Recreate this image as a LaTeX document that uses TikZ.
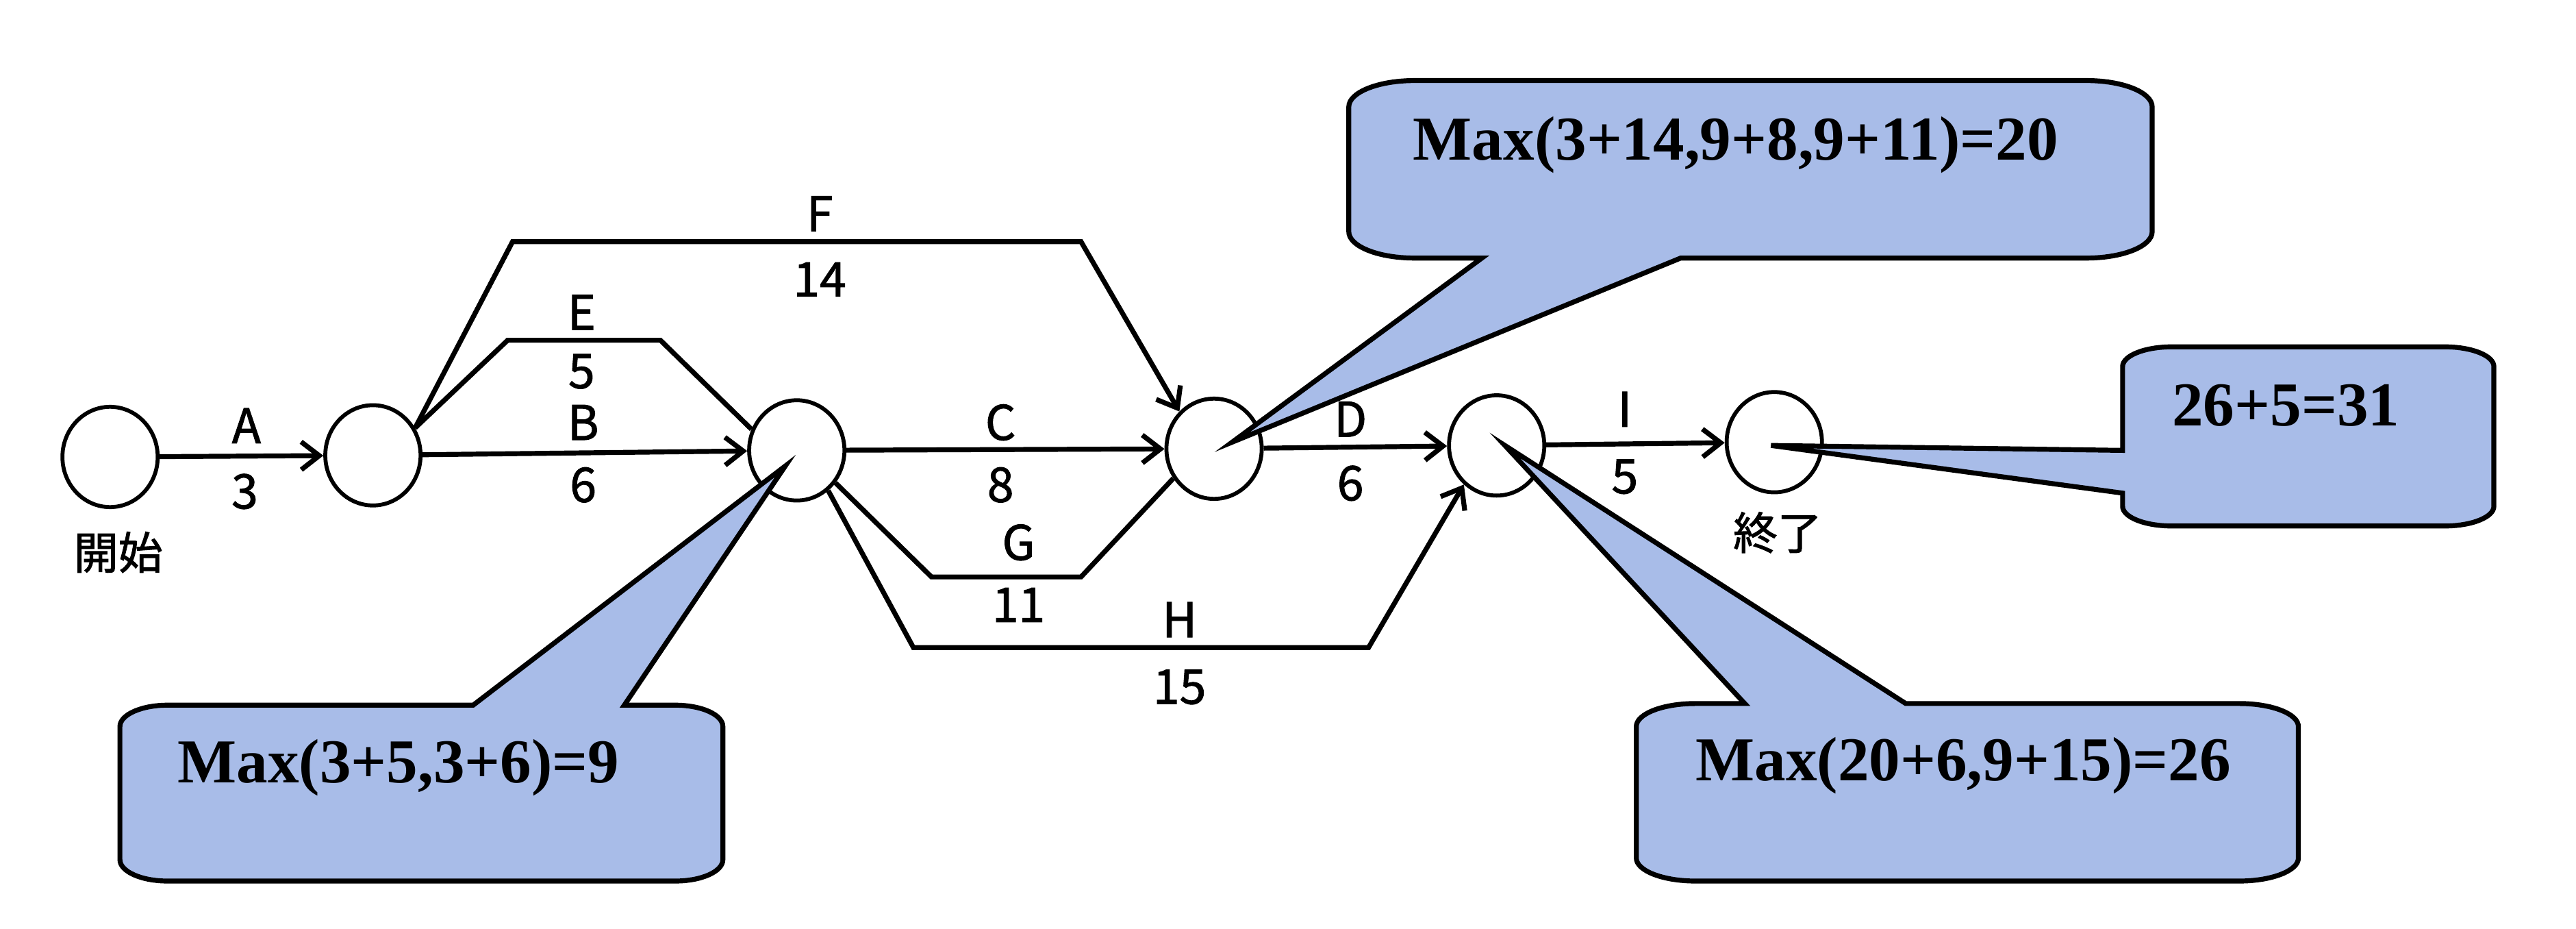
\documentclass[tikz,border=0pt]{standalone}
\usepackage{fontspec}
\setmainfont{Liberation Serif}
\newfontfamily\labfont[AutoFakeBold=1.5]{Noto Sans CJK JP}
\usetikzlibrary{arrows.meta,shapes.geometric,calc}
\definecolor{callcol}{RGB}{168,188,232}
\begin{document}
\begin{tikzpicture}[x=1pt,y=-1pt,
  ev/.style={draw, ellipse, line width=2.4pt, minimum width=58pt, minimum height=61pt, inner sep=0pt, fill=white},
  edge/.style={line width=3pt},
  arr/.style={-{Straight Barb[length=11pt,width=17pt]}},
  lab/.style={font=\labfont\bfseries\fontsize{29}{29}\selectfont, inner sep=0pt},
  jlab/.style={font=\labfont\bfseries\fontsize{27}{27}\selectfont, inner sep=0pt},
  callout/.style={fill=callcol, draw=black, line width=3pt, line join=miter},
  ctext/.style={font=\bfseries\fontsize{38}{38}\selectfont, inner sep=0pt, anchor=base west}
]
\useasboundingbox (0,0) rectangle (1568,565);
\fill[white] (0,0) rectangle (1568,565);

% event nodes
\node[ev] (n1) at (67,278) {};
\node[ev] (n2) at (227,277) {};
\node[ev] (n3) at (485,274) {};
\node[ev] (n4) at (739,273) {};
\node[ev] (n5) at (911,271) {};
\node[ev] (n6) at (1080,269) {};

% activities
\draw[edge,arr] (n1) -- (n2);
\draw[edge,arr] (n2) -- (n3);
\draw[edge,arr] (n3) -- (n4);
\draw[edge,arr] (n4) -- (n5);
\draw[edge,arr] (n5) -- (n6);
\draw[edge] (n2.33) -- (309,207) -- (402,207) -- (n3.155);
\draw[edge,arr] (n2.33) -- (312,147) -- (658,147) -- (n4.133);
\draw[edge] (n3.-40) -- (567,351) -- (658,351) -- (n4.216);
\draw[edge,arr] (n3.-52) -- (556,394) -- (833,394) -- (n5.230);

% labels
\node[lab] (lA) at (150,259) {A};
\node[lab] (lA3) at (149,299) {3};
\node[lab] (lB) at (355,257) {B};
\node[lab] (lB6) at (355,295) {6};
\node[lab] (lE) at (354,190) {E};
\node[lab] (lE5) at (354,226) {5};
\node[lab] (lF) at (499,130) {F};
\node[lab] (lF14) at (499,170) {14};
\node[lab] (lC) at (609,257) {C};
\node[lab] (lC8) at (609,295) {8};
\node[lab] (lG) at (620,330) {G};
\node[lab] (lG11) at (620,368) {11};
\node[lab] (lH) at (718,377) {H};
\node[lab] (lH15) at (718,418) {15};
\node[lab] (lD) at (822,255) {D};
\node[lab] (lD6) at (822,294) {6};
\node[lab] (lI) at (989,249) {I};
\node[lab] (lI5) at (989,290) {5};
\node[jlab] (start) at (72,336) {開始};
\node[jlab] (finish) at (1082,324) {終了};

% callouts
\coordinate (t1) at (750,269);
\coordinate (t2) at (478,283.5);
\coordinate (t3) at (916,271);
\coordinate (t4) at (1078,271);

\draw[callout] (861,49) -- (1270,49) .. controls (1292.1,49) and (1310,56.2) .. (1310,65)
  -- (1310,141) .. controls (1310,149.8) and (1292.1,157) .. (1270,157)
  -- (1023,157) -- (t1) -- (902,157) -- (861,157)
  .. controls (838.9,157) and (821,149.8) .. (821,141)
  -- (821,65) .. controls (821,56.2) and (838.9,49) .. (861,49) -- cycle;
\node[ctext] (c1) at (860,97.5) {Max(3+14,9+8,9+11)=20};

\draw[callout] (102,429) -- (288,429) -- (t2) -- (380,429) -- (411,429)
  .. controls (427,429) and (440,434.8) .. (440,442)
  -- (440,523) .. controls (440,530.2) and (427,536) .. (411,536)
  -- (102,536) .. controls (86,536) and (73,530.2) .. (73,523)
  -- (73,442) .. controls (73,434.8) and (86,429) .. (102,429) -- cycle;
\node[ctext] (c2) at (108,476) {Max(3+5,3+6)=9};

\draw[callout] (1032,428) -- (1062,428) -- (t3) -- (1160,428) -- (1363,428)
  .. controls (1382.9,428) and (1399,434.3) .. (1399,442)
  -- (1399,522) .. controls (1399,529.7) and (1382.9,536) .. (1363,536)
  -- (1032,536) .. controls (1012.1,536) and (996,529.7) .. (996,522)
  -- (996,442) .. controls (996,434.3) and (1012.1,428) .. (1032,428) -- cycle;
\node[ctext] (c3) at (1032,475) {Max(20+6,9+15)=26};

\draw[callout] (1322,211) -- (1488,211) .. controls (1504.6,211) and (1518,216.4) .. (1518,223)
  -- (1518,308) .. controls (1518,314.6) and (1504.6,320) .. (1488,320)
  -- (1322,320) .. controls (1305.4,320) and (1292,314.6) .. (1292,308)
  -- (1292,300) -- (t4) -- (1292,274)
  -- (1292,223) .. controls (1292,216.4) and (1305.4,211) .. (1322,211) -- cycle;
\node[ctext] (c4) at (1322,259) {26+5=31};
\end{tikzpicture}
\end{document}
